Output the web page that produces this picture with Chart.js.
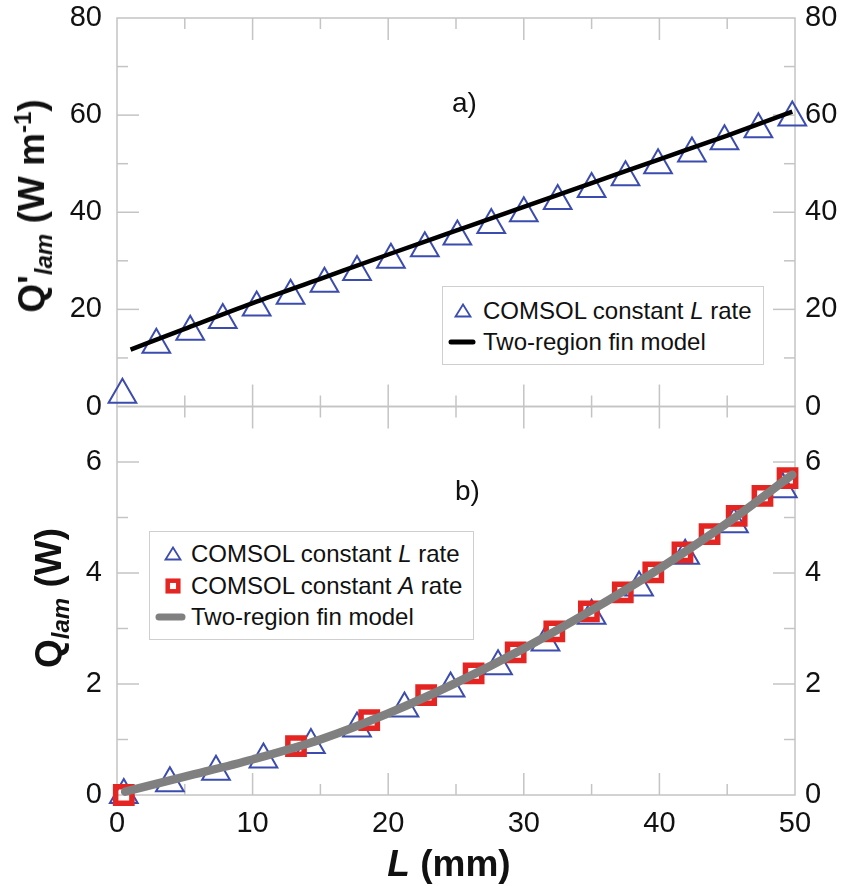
<!DOCTYPE html>
<html>
<head>
<meta charset="utf-8">
<script src="https://cdn.jsdelivr.net/npm/chart.js@4.4.1/dist/chart.umd.min.js"></script>
<style>
body { margin: 0; background: #fff; font-family: 'Liberation Sans', Arial, sans-serif; }
#wrap { position: relative; width: 845px; height: 886px; }
#chart { position: absolute; left: 0; top: 0; }
.lbl { position: absolute; white-space: nowrap; color: #111; }
.ytitle { font-weight: bold; font-size: 37px; line-height: 40px; transform: translate(-50%, -50%) rotate(-90deg); }
.xtitle { font-weight: bold; font-size: 37px; line-height: 40px; transform: translateX(-50%); }
.tag { font-size: 28px; line-height: 30px; }
sub, sup { font-size: 24px; line-height: 0; }
.legend { position: absolute; border: 1px solid #cfcfcf; background: #fff; }
.row { position: absolute; left: 0; right: 0; height: 30px; line-height: 30px; font-size: 24px; white-space: nowrap; color: #111; }
.row svg { position: absolute; left: 0; top: 0; }
.row span { position: absolute; top: 0; }
</style>
</head>
<body>
<div id="wrap">
  <canvas id="chart" width="845" height="886"></canvas>

  <div class="lbl ytitle" style="left:32px;top:206px">Q'<sub><i>lam</i></sub> (W m<sup>-1</sup>)</div>
  <div class="lbl ytitle" style="left:49px;top:598px">Q<sub><i>lam</i></sub> (W)</div>
  <div class="lbl xtitle" style="left:449px;top:844px"><i>L</i> (mm)</div>
  <div class="lbl tag" style="left:452px;top:88px">a)</div>
  <div class="lbl tag" style="left:455px;top:476px">b)</div>

  <div class="legend" style="left:442px;top:286px;width:320px;height:77px">
    <div class="row" style="top:9px">
      <svg width="40" height="30"><polygon points="20,8.5 12.5,20.5 27.5,20.5" fill="none" stroke="#3b4cae" stroke-width="1.8"/></svg>
      <span style="left:40px">COMSOL constant <i>L</i> rate</span>
    </div>
    <div class="row" style="top:40px">
      <svg width="40" height="30"><line x1="8" y1="15" x2="30" y2="15" stroke="#000" stroke-width="5" stroke-linecap="round"/></svg>
      <span style="left:40px">Two-region fin model</span>
    </div>
  </div>

  <div class="legend" style="left:149px;top:531px;width:323px;height:107px">
    <div class="row" style="top:7px">
      <svg width="42" height="30"><polygon points="23,8.5 15.5,20.5 30.5,20.5" fill="none" stroke="#3b4cae" stroke-width="1.8"/></svg>
      <span style="left:41px">COMSOL constant <i>L</i> rate</span>
    </div>
    <div class="row" style="top:39px">
      <svg width="42" height="30"><rect x="17.7" y="9.7" width="10.6" height="10.6" fill="none" stroke="#e52521" stroke-width="4.5"/></svg>
      <span style="left:41px">COMSOL constant <i>A</i> rate</span>
    </div>
    <div class="row" style="top:70px">
      <svg width="42" height="30"><line x1="9" y1="15" x2="32" y2="15" stroke="#808080" stroke-width="7" stroke-linecap="round"/></svg>
      <span style="left:41px">Two-region fin model</span>
    </div>
  </div>
</div>

<script>
// panel a) heat rate per length
const topTriL = [0.4, 2.9, 5.4, 7.8, 10.3, 12.8, 15.3, 17.7, 20.2, 22.7, 25.1, 27.6, 30.0, 32.5, 35.0, 37.5, 39.9, 42.4, 44.8, 47.3, 49.8];
const topTriQ = [2.4, 12.7, 15.4, 17.8, 20.4, 22.8, 25.3, 27.7, 30.2, 32.6, 35.0, 37.4, 39.8, 42.3, 44.8, 47.2, 49.7, 52.1, 54.6, 57.1, 59.5];
const topModelL = [1.0, 5, 10, 15, 20, 25, 30, 35, 40, 45, 49.8];
const topModelQ = [11.7, 16.0, 21.3, 26.3, 31.3, 36.2, 41.1, 46.0, 50.9, 55.8, 60.7];

// panel b) total heat rate
const botTriL = [0.5, 3.9, 7.3, 10.8, 14.3, 17.7, 21.2, 24.6, 28.1, 31.6, 35.0, 38.5, 41.9, 45.5, 49.1];
const botTriQ = [0, 0.21, 0.42, 0.64, 0.90, 1.20, 1.56, 1.92, 2.32, 2.75, 3.23, 3.74, 4.31, 4.88, 5.51];
const botSqL = [0.5, 13.2, 18.6, 22.8, 26.3, 29.4, 32.25, 34.8, 37.3, 39.55, 41.7, 43.7, 45.7, 47.6, 49.45];
const botSqQ = [0, 0.88, 1.35, 1.80, 2.19, 2.57, 2.95, 3.31, 3.65, 4.01, 4.37, 4.70, 5.03, 5.39, 5.71];
const botModelL = [0.6, 5, 10, 15, 20, 25, 30, 35, 40, 45, 49.8];
const botModelQ = [0.06, 0.33, 0.64, 1.0, 1.47, 2.02, 2.64, 3.33, 4.08, 4.9, 5.77];

// tick labels and tick marks
const xTickLabels = [0, 10, 20, 30, 40, 50];
const topTickLabels = [0, 20, 40, 60, 80];
const botTickLabels = [0, 2, 4, 6];
const xMajor = [10, 20, 30, 40];
const xMinor = [5, 15, 25, 35, 45];
const topMajor = [20, 40, 60];
const topMinor = [10, 30, 50, 70];
const botMajor = [2, 4, 6];
const botMinor = [1, 3, 5];

const FONT = "'Liberation Sans', Arial, sans-serif";
const TICK_COLOR = '#c4c4c4';
const pts = (xs, ys) => xs.map((x, i) => ({x, y: ys[i]}));
const setTicks = vals => s => { s.ticks = vals.map(v => ({value: v})); };

// grey frame and inward tick marks for both panels
const frameTicks = {
    id: 'frameTicks',
    beforeDatasetsDraw(chart) {
        const {ctx, scales} = chart;
        const x = scales.x;
        const line = (x1, y1, x2, y2) => { ctx.beginPath(); ctx.moveTo(x1, y1); ctx.lineTo(x2, y2); ctx.stroke(); };
        ctx.save();
        ctx.strokeStyle = TICK_COLOR;
        ctx.lineWidth = 1.5;
        [[scales.yTop, topMajor, topMinor], [scales.yBot, botMajor, botMinor]].forEach(([y, major, minor]) => {
            ctx.strokeRect(x.left, y.top, x.right - x.left, y.bottom - y.top);
            const yMarks = (vals, len) => vals.forEach(v => {
                const py = y.getPixelForValue(v);
                line(x.left, py, x.left + len, py);
                line(x.right, py, x.right - len, py);
            });
            const xMarks = (vals, len) => vals.forEach(v => {
                const px = x.getPixelForValue(v);
                line(px, y.top, px, y.top + len);
                line(px, y.bottom, px, y.bottom - len);
            });
            yMarks(major, 22); yMarks(minor, 11);
            xMarks(xMajor, 22); xMarks(xMinor, 11);
        });
        ctx.restore();
    }
};

const tickOpts = pad => ({ font: {family: FONT, size: 29}, color: '#111', padding: pad, autoSkip: false, maxRotation: 0 });
const yScale = (pos, stack, max, labels, width) => ({
    type: 'linear', position: pos, stack: stack, stackWeight: 1, min: 0, max: max,
    afterBuildTicks: setTicks(labels),
    // fixed axis width, and no extra room for the end labels
    afterFit: s => { s.width = width; s.paddingTop = 0; s.paddingBottom = 0; },
    ticks: tickOpts(pos === 'left' ? 15 : 10),
    grid: {display: false, drawTicks: false},
    border: {display: false}
});

new Chart(document.getElementById('chart'), {
    type: 'scatter',
    data: {
        datasets: [
            { label: 'Two-region fin model', data: pts(topModelL, topModelQ), yAxisID: 'yTop', showLine: true,
              borderColor: '#000', borderWidth: 4.5, pointRadius: 0, cubicInterpolationMode: 'monotone', clip: false },
            { label: 'Two-region fin model', data: pts(botModelL, botModelQ), yAxisID: 'yBot', showLine: true,
              borderColor: '#808080', borderWidth: 8.5, borderCapStyle: 'round', pointRadius: 0, cubicInterpolationMode: 'monotone', clip: false },
            { label: 'COMSOL constant A rate', data: pts(botSqL, botSqQ), yAxisID: 'yBot',
              pointStyle: 'rect', pointRadius: 11.5, borderColor: '#e52521', borderWidth: 5.5, backgroundColor: 'rgba(0,0,0,0)', clip: false },
            { label: 'COMSOL constant L rate', data: pts(botTriL, botTriQ), yAxisID: 'yBot',
              pointStyle: 'triangle', pointRadius: 16, borderColor: '#3b4cae', borderWidth: 2, backgroundColor: 'rgba(0,0,0,0)', clip: false },
            { label: 'COMSOL constant L rate', data: pts(topTriL, topTriQ), yAxisID: 'yTop',
              pointStyle: 'triangle', pointRadius: 16, borderColor: '#3b4cae', borderWidth: 2, backgroundColor: 'rgba(0,0,0,0)', clip: false }
        ]
    },
    options: {
        responsive: false,
        animation: false,
        events: [],
        layout: { padding: { top: 16 } },
        plugins: { legend: {display: false}, tooltip: {enabled: false} },
        scales: {
            x: {
                type: 'linear', position: 'bottom', min: 0, max: 50,
                afterBuildTicks: setTicks(xTickLabels),
                afterFit: s => { s.height = 91; },
                ticks: tickOpts(12),
                grid: {display: false, drawTicks: false},
                border: {display: false}
            },
            yBot: yScale('left', 'left', 7, botTickLabels, 117),
            yTop: yScale('left', 'left', 80, topTickLabels, 117),
            yTopR: yScale('right', 'right', 80, topTickLabels, 50),
            yBotR: yScale('right', 'right', 7, botTickLabels, 50)
        }
    },
    plugins: [frameTicks]
});
</script>
</body>
</html>
